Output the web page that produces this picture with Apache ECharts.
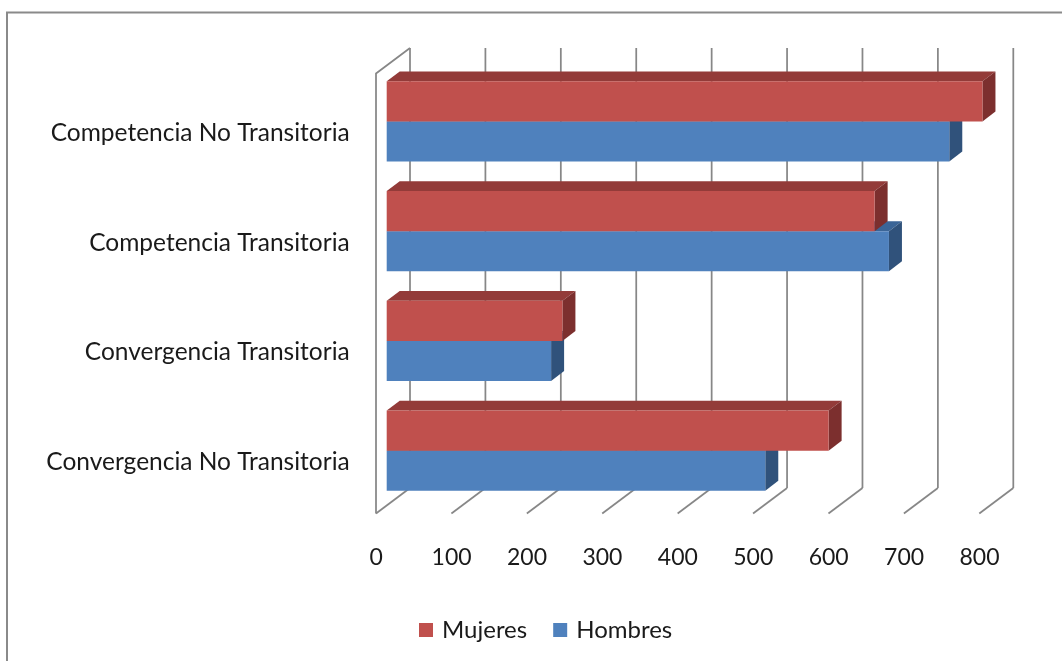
<!DOCTYPE html>
<html>
<head>
<meta charset="utf-8">
<title>Competencia y Convergencia</title>
<script src="https://cdn.jsdelivr.net/npm/echarts@6/dist/echarts.min.js"></script>
<style>
  html, body { margin: 0; padding: 0; background: #ffffff; }
  #chart { width: 1062px; height: 661px; }
</style>
</head>
<body>
<div id="chart"></div>
<script>
// Categories, top to bottom
const categories = [
  'Competencia No Transitoria',
  'Competencia Transitoria',
  'Convergencia Transitoria',
  'Convergencia No Transitoria'
];
const mujeres = [790, 647, 233, 586];
const hombres = [746, 666, 218, 502];
const xTicks = [0, 100, 200, 300, 400, 500, 600, 700, 800];

// Oblique projection offsets, relative to the bars' front face
const BACK = { dx: 23.3, dy: -17.5 };   // back wall
const FRONT = { dx: -10.7, dy: 8 };     // front edge of the floor
const DEPTH = { dx: 13, dy: -9.8 };     // bar depth

const GRID_COLOR = '#878787';
const FONT = 'Lato';
const TEXT_COLOR = '#1a1a1a';

const COLORS = {
  Mujeres: { front: '#C0504D', top: '#933B39', side: '#7C2F2E' },
  Hombres: { front: '#4F81BD', top: '#3B6597', side: '#30527B' }
};

function renderWalls(params, api) {
  const v = api.value(0);
  const x = api.coord([v, 0])[0];
  const cs = params.coordSys;
  const top = cs.y - 1;
  const bottom = cs.y + cs.height;
  const style = { stroke: GRID_COLOR, lineWidth: 1.75, fill: null };
  const children = [
    { type: 'line', shape: { x1: x + BACK.dx, y1: top + BACK.dy, x2: x + BACK.dx, y2: bottom + BACK.dy }, style },
    { type: 'line', shape: { x1: x + BACK.dx, y1: bottom + BACK.dy, x2: x + FRONT.dx, y2: bottom + FRONT.dy }, style }
  ];
  if (v === 0) {
    children.push({
      type: 'polyline',
      shape: { points: [
        [x + FRONT.dx, bottom + FRONT.dy],
        [x + FRONT.dx, top + FRONT.dy],
        [x + BACK.dx, top + BACK.dy]
      ] },
      style
    });
  }
  return { type: 'group', children };
}

function makeBarRenderer(name, above) {
  const c = COLORS[name];
  return function (params, api) {
    const v = api.value(0);
    const idx = api.value(1);
    const end = api.coord([v, idx]);
    const start = api.coord([0, idx]);
    const band = api.size([0, 1])[1];
    const h = band * 0.3645;
    const x0 = start[0], x1 = end[0];
    const yt = above ? end[1] - h : end[1];
    const yb = above ? end[1] : end[1] + h;
    return {
      type: 'group',
      children: [
        { type: 'polygon', shape: { points: [[x0, yt], [x0 + DEPTH.dx, yt + DEPTH.dy], [x1 + DEPTH.dx, yt + DEPTH.dy], [x1, yt]] },
          style: { fill: c.top } },
        { type: 'polygon', shape: { points: [[x1, yt], [x1 + DEPTH.dx, yt + DEPTH.dy], [x1 + DEPTH.dx, yb + DEPTH.dy], [x1, yb]] },
          style: { fill: c.side } },
        { type: 'rect', shape: { x: x0, y: yt, width: x1 - x0, height: yb - yt },
          style: { fill: c.front } }
      ]
    };
  };
}

const chart = echarts.init(document.getElementById('chart'), null, { renderer: 'canvas' });

chart.setOption({
  backgroundColor: '#ffffff',
  animation: false,
  textStyle: { fontFamily: FONT },
  graphic: [{
    type: 'polyline',
    shape: { points: [[7, 661], [7, 12.5], [1062, 12.5]] },
    style: { stroke: '#8a8a8a', lineWidth: 2, fill: null },
    silent: true
  }],
  grid: { left: 386.7, top: 66.5, width: 603.3, height: 439 },
  xAxis: {
    type: 'value',
    min: 0, max: 800, interval: 100,
    axisLine: { show: false },
    axisTick: { show: false },
    splitLine: { show: false },
    axisLabel: {
      margin: 41,
      fontFamily: FONT, fontSize: 23, color: TEXT_COLOR,
      padding: [0, 21, 0, 0],
      formatter: function (val) { return xTicks.indexOf(val) >= 0 ? String(val) : ''; }
    }
  },
  yAxis: {
    type: 'category',
    data: categories,
    inverse: true,
    axisLine: { show: false },
    axisTick: { show: false },
    splitLine: { show: false },
    axisLabel: {
      margin: 37,
      fontFamily: FONT, fontSize: 24.5, color: TEXT_COLOR,
      verticalAlign: 'top',
      lineHeight: 23
    }
  },
  legend: {
    data: ['Mujeres', 'Hombres'],
    left: 414, top: 613,
    icon: 'rect', itemWidth: 14, itemHeight: 14, itemGap: 26,
    textStyle: { fontFamily: FONT, fontSize: 24, color: TEXT_COLOR, padding: [0, 0, 0, 4] }
  },
  series: [
    {
      type: 'custom', name: 'walls', silent: true, z: 1,
      data: xTicks.map(v => [v, 0]),
      encode: { x: 0, y: 1 },
      renderItem: renderWalls
    },
    {
      type: 'custom', name: 'Hombres', z: 2,
      itemStyle: { color: COLORS.Hombres.front },
      data: hombres.map((v, i) => [v, i]),
      encode: { x: 0, y: 1 },
      renderItem: makeBarRenderer('Hombres', false)
    },
    {
      type: 'custom', name: 'Mujeres', z: 3,
      itemStyle: { color: COLORS.Mujeres.front },
      data: mujeres.map((v, i) => [v, i]),
      encode: { x: 0, y: 1 },
      renderItem: makeBarRenderer('Mujeres', true)
    }
  ]
});
</script>
</body>
</html>
